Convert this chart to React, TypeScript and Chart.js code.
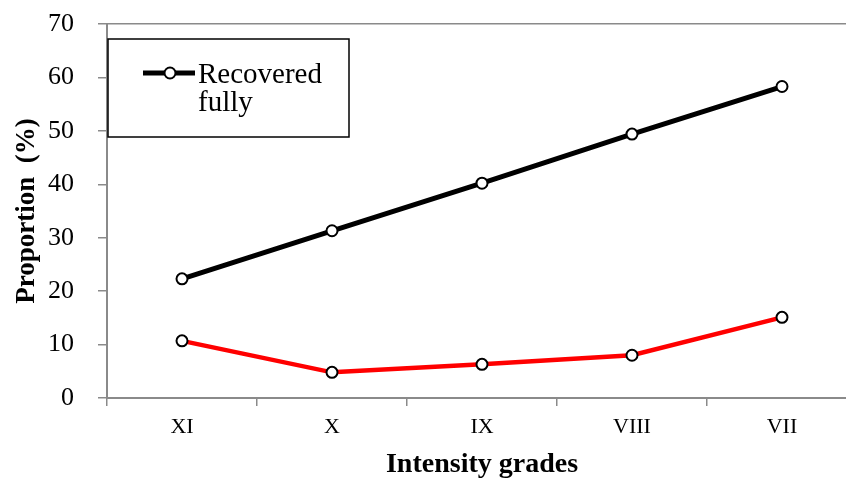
import React, { useEffect, useRef } from "react";
import { Chart, registerables } from "chart.js";

Chart.register(...registerables);

const categories = ["XI", "X", "IX", "VIII", "VII"];
const recoveredFully = [22.3, 31.3, 40.2, 49.4, 58.3];
const otherSeries = [10.7, 4.8, 6.3, 8.0, 15.1];
const yTicks = [0, 10, 20, 30, 40, 50, 60, 70];

const SERIF = "'Liberation Serif', 'Times New Roman', serif";
const AXIS_GRAY = "#8a8a8a";

const legendBoxPlugin = {
  id: "legendBox",
  afterDraw(chart: any) {
    const ctx = chart.ctx;
    const ds = chart.data.datasets[0];
    ctx.save();
    ctx.fillStyle = "#ffffff";
    ctx.strokeStyle = "#000000";
    ctx.lineWidth = 1.5;
    ctx.fillRect(108, 39, 241, 98);
    ctx.strokeRect(108, 39, 241, 98);
    ctx.strokeStyle = ds.borderColor;
    ctx.lineWidth = ds.borderWidth;
    ctx.beginPath();
    ctx.moveTo(143, 73);
    ctx.lineTo(195, 73);
    ctx.stroke();
    ctx.beginPath();
    ctx.arc(170, 73, ds.pointRadius, 0, Math.PI * 2);
    ctx.fillStyle = ds.pointBackgroundColor;
    ctx.fill();
    ctx.lineWidth = ds.pointBorderWidth;
    ctx.strokeStyle = ds.pointBorderColor;
    ctx.stroke();
    ctx.fillStyle = "#000000";
    ctx.font = `29px ${SERIF}`;
    ctx.textBaseline = "alphabetic";
    ctx.textAlign = "left";
    const words = String(ds.label).split(" ");
    words.forEach((w: string, i: number) => {
      ctx.fillText(w, 198, 83 + i * 28);
    });
    ctx.restore();
  },
};

export default function App() {
  const canvasRef = useRef<HTMLCanvasElement | null>(null);

  useEffect(() => {
    if (!canvasRef.current) return;
    const chart = new Chart(canvasRef.current, {
      type: "line",
      data: {
        labels: categories,
        datasets: [
          {
            label: "Recovered fully",
            data: recoveredFully,
            borderColor: "#000000",
            borderWidth: 5,
            pointRadius: 5.5,
            pointBackgroundColor: "#ffffff",
            pointBorderColor: "#000000",
            pointBorderWidth: 2,
            tension: 0,
          },
          {
            label: "Other",
            data: otherSeries,
            borderColor: "#ff0000",
            borderWidth: 4.5,
            pointRadius: 5.5,
            pointBackgroundColor: "#ffffff",
            pointBorderColor: "#000000",
            pointBorderWidth: 2,
            tension: 0,
          },
        ],
      },
      options: {
        responsive: false,
        animation: false,
        devicePixelRatio: 1,
        layout: { padding: { left: 0, top: 24, right: 23, bottom: 0 } },
        plugins: {
          legend: { display: false },
          tooltip: { enabled: false },
        },
        scales: {
          x: {
            type: "category",
            offset: true,
            grid: {
              display: true,
              offset: true,
              drawOnChartArea: false,
              drawTicks: true,
              tickLength: 8,
              tickColor: AXIS_GRAY,
              lineWidth: 1.5,
            },
            border: { display: true, color: AXIS_GRAY, width: 2 },
            ticks: {
              color: "#000000",
              padding: 8,
              font: { family: SERIF, size: 22, lineHeight: 1.2 },
            },
            title: {
              display: true,
              text: "Intensity grades",
              color: "#000000",
              padding: { top: 0, bottom: 0 },
              font: { family: SERIF, size: 28, weight: "bold", lineHeight: 1.0 },
            },
            afterFit(scale: any) {
              scale.height = 81;
              scale.paddingLeft = 0;
              scale.paddingRight = 0;
            },
          },
          y: {
            min: 0,
            max: 70,
            afterBuildTicks(scale: any) {
              scale.ticks = yTicks.map((v) => ({ value: v }));
            },
            grid: {
              display: true,
              drawTicks: true,
              tickLength: 9,
              tickColor: AXIS_GRAY,
              lineWidth: 1.5,
              color: (ctx: any) =>
                ctx.tick && ctx.tick.value === 70 ? AXIS_GRAY : "rgba(0,0,0,0)",
            },
            border: { display: true, color: AXIS_GRAY, width: 2 },
            ticks: {
              color: "#000000",
              padding: 24,
              font: { family: SERIF, size: 26, lineHeight: 1.2 },
            },
            title: {
              display: true,
              text: "Proportion  (%)",
              color: "#000000",
              padding: { top: 11, bottom: 0 },
              font: { family: SERIF, size: 27, weight: "bold", lineHeight: 1.2 },
            },
            afterFit(scale: any) {
              scale.width = 107;
              scale.paddingTop = 0;
              scale.paddingBottom = 0;
            },
          },
        },
      },
      plugins: [legendBoxPlugin],
    });
    return () => chart.destroy();
  }, []);

  return (
    <div
      style={{
        position: "absolute",
        left: 0,
        top: 0,
        width: 846,
        height: 479,
        overflow: "hidden",
        background: "#ffffff",
      }}
    >
      <canvas ref={canvasRef} width={880} height={479} style={{ display: "block" }} />
    </div>
  );
}
